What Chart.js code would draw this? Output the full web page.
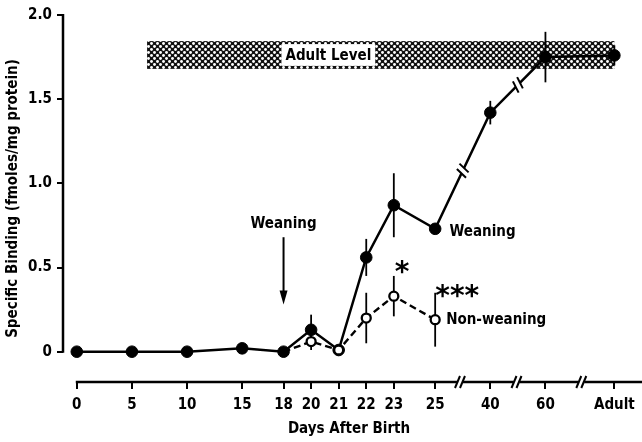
<!DOCTYPE html>
<html><head><meta charset="utf-8">
<script src="https://cdn.jsdelivr.net/npm/chart.js@4.4.1/dist/chart.umd.min.js"></script>
<style>html,body{margin:0;padding:0;background:#fff;}</style>
</head><body>
<canvas id="c" width="642" height="442"></canvas>
<script>
// ---- data ----
const dayLabels = ['0','5','10','15','18','20','21','22','23','25','40','60','Adult'];
const axisSlots = [0,4,8,12,15,17,19,21,23,26,30,34,39];          // position of each day on the broken axis
const weaningMean = [0,0,0,0.02,0,0.13,0.01,0.56,0.87,0.73,1.42,1.75,1.76];
const weaningErr  = [0,0,0,0,0,0.09,0,0.11,0.19,0.03,0.07,0.15,0.06];
const nonWeaningMean = [null,null,null,null,0,0.06,0.01,0.20,0.33,0.19,null,null,null];
const nonWeaningErr  = [null,null,null,null,0,0.05,0.02,0.15,0.12,0.16,null,null,null];
const yTicks = [0,0.5,1.0,1.5,2.0];
const yTickLabels = ['0','0.5','1.0','1.5','2.0'];
const adultLevel = [1.68,1.845];

const FONT = "'Liberation Sans Narrow','Arial Narrow','DejaVu Sans Condensed',sans-serif";

function pts(mean){
  const out=[];
  mean.forEach((v,i)=>{ if(v!==null) out.push({x:axisSlots[i], y:v}); });
  return out;
}

// crosshatch pattern: black mesh with staggered white holes
const pc=document.createElement('canvas'); pc.width=6; pc.height=6;
const pctx=pc.getContext('2d');
pctx.fillStyle='#111'; pctx.fillRect(0,0,6,6);
pctx.fillStyle='#fff';
[[1.5,1.5],[4.5,4.5],[4.5,-1.5],[-1.5,4.5],[7.5,4.5],[4.5,7.5]].forEach(([cx,cy])=>{
  pctx.beginPath(); pctx.arc(cx,cy,1.45,0,Math.PI*2); pctx.fill();
});
const ctxMain=document.getElementById('c').getContext('2d');
const pattern=ctxMain.createPattern(pc,'repeat');

const deco={
  id:'deco',
  beforeDatasetsDraw(chart){
    const {ctx,scales:{x,y}}=chart;
    ctx.save();
    // adult band
    const x0=x.getPixelForValue(5.1), x1=x.getPixelForValue(39);
    const yt=y.getPixelForValue(adultLevel[1]), yb=y.getPixelForValue(adultLevel[0]);
    ctx.fillStyle=pattern;
    ctx.fillRect(x0,yt,x1-x0,yb-yt);
    ctx.font='bold 15px '+FONT;
    const tw=ctx.measureText('Adult Level').width;
    const cx=x.getPixelForValue(18.25), cy=(yt+yb)/2;
    ctx.fillStyle='#fff';
    ctx.fillRect(cx-tw/2-4,yt+3,tw+8,yb-yt-6);
    ctx.fillStyle='#000'; ctx.textAlign='center'; ctx.textBaseline='middle';
    ctx.fillText('Adult Level',cx,cy+1);
    // error bars
    ctx.strokeStyle='#000'; ctx.lineWidth=1.8;
    const bars=(mean,err)=>mean.forEach((v,i)=>{
      if(v===null||!err[i]) return;
      const px=x.getPixelForValue(axisSlots[i]);
      ctx.beginPath();
      ctx.moveTo(px,y.getPixelForValue(v+err[i]));
      ctx.lineTo(px,y.getPixelForValue(Math.max(v-err[i],-0.01)));
      ctx.stroke();
    });
    bars(weaningMean,weaningErr);
    bars(nonWeaningMean,nonWeaningErr);
    ctx.restore();
  },
  afterDatasetsDraw(chart){
    const {ctx,scales:{x,y}}=chart;
    ctx.save();
    // break marks on weaning line
    [[9,10],[10,11]].forEach(([a,b])=>{
      const xa=x.getPixelForValue(axisSlots[a]), ya=y.getPixelForValue(weaningMean[a]);
      const xb=x.getPixelForValue(axisSlots[b]), yb=y.getPixelForValue(weaningMean[b]);
      const mx=(xa+xb)/2, my=(ya+yb)/2;
      const ang=Math.atan2(yb-ya,xb-xa);
      ctx.translate(mx,my); ctx.rotate(ang);
      ctx.fillStyle='#fff'; ctx.fillRect(-3,-6,6,12);
      ctx.strokeStyle='#000'; ctx.lineWidth=2;
      [-3,3].forEach(d=>{ctx.beginPath();ctx.moveTo(d-2,6);ctx.lineTo(d+2,-6);ctx.stroke();});
      ctx.setTransform(1,0,0,1,0,0);
    });
    // annotations
    ctx.fillStyle='#000'; ctx.strokeStyle='#000';
    ctx.font='bold 15px '+FONT; ctx.textBaseline='middle';
    ctx.textAlign='center';
    const ax=x.getPixelForValue(15);
    ctx.fillText('Weaning',ax,y.getPixelForValue(0.755));
    ctx.lineWidth=2;
    const ay0=y.getPixelForValue(0.68), ay1=y.getPixelForValue(0.28);
    ctx.beginPath(); ctx.moveTo(ax,ay0); ctx.lineTo(ax,ay1-10); ctx.stroke();
    ctx.beginPath(); ctx.moveTo(ax-4,ay1-14); ctx.lineTo(ax+4,ay1-14); ctx.lineTo(ax,ay1); ctx.closePath(); ctx.fill();
    ctx.textAlign='left';
    ctx.fillText('Weaning',x.getPixelForValue(27.04),y.getPixelForValue(0.71));
    ctx.fillText('Non-weaning',x.getPixelForValue(26.8),y.getPixelForValue(0.185));
    ctx.textAlign='center';
    ctx.font="bold 28px 'DejaVu Sans',sans-serif";
    ctx.fillText('*',x.getPixelForValue(23.6),y.getPixelForValue(0.5)+6);
    ctx.fillText('***',x.getPixelForValue(27.6),y.getPixelForValue(0.357)+6);
    ctx.restore();
  },
  afterDraw(chart){
    const {ctx,scales:{x,y},chartArea}=chart;
    ctx.save();
    ctx.strokeStyle='#000'; ctx.lineWidth=2.5;
    // y axis line (0 to 2.0)
    const yl=chartArea.left;
    ctx.beginPath(); ctx.moveTo(yl,y.getPixelForValue(2.0)-1); ctx.lineTo(yl,y.getPixelForValue(0)+1); ctx.stroke();
    // x axis line
    const by=chartArea.bottom;
    ctx.beginPath(); ctx.moveTo(x.getPixelForValue(0)-1,by); ctx.lineTo(chart.width,by); ctx.stroke();
    // breaks
    [27.8,31.9,36.6].forEach(s=>{
      const px=x.getPixelForValue(s);
      ctx.fillStyle='#fff'; ctx.fillRect(px-3,by-3,6,6);
      ctx.lineWidth=2;
      [-2.5,2.5].forEach(d=>{ctx.beginPath();ctx.moveTo(px+d-2.5,by+6);ctx.lineTo(px+d+2.5,by-6);ctx.stroke();});
    });
    ctx.restore();
  }
};

new Chart(document.getElementById('c'),{
  type:'line',
  data:{datasets:[
    {label:'Weaning',data:pts(weaningMean),borderColor:'#000',borderWidth:2.5,tension:0,
     pointRadius:5.8,pointBackgroundColor:'#000',pointBorderColor:'#000',pointBorderWidth:1,order:2},
    {label:'Non-weaning',data:pts(nonWeaningMean),borderColor:'#000',borderWidth:2.4,borderDash:[7,4],tension:0,
     pointRadius:[0,4.5,4.5,4.5,4.5,4.5],pointBackgroundColor:'#fff',pointBorderColor:'#000',pointBorderWidth:2.3,order:1}
  ]},
  options:{
    responsive:false,animation:false,devicePixelRatio:1,
    layout:{padding:{top:15,right:3,left:0,bottom:0}},
    plugins:{legend:{display:false},tooltip:{enabled:false}},
    scales:{
      x:{type:'linear',min:-1,max:40.5,
        afterBuildTicks(s){s.ticks=axisSlots.map(v=>({value:v}));},
        afterFit(s){s.height=60;},
        ticks:{autoSkip:false,maxRotation:0,color:'#000',padding:7,font:{family:FONT,weight:'bold',size:15},
          callback(v){const i=axisSlots.indexOf(v);return i>=0?dayLabels[i]:'';}},
        grid:{drawOnChartArea:false,drawTicks:true,tickLength:7,color:'#000',lineWidth:2},
        border:{display:false},
        title:{display:true,text:'Days After Birth',color:'#000',font:{family:FONT,weight:'bold',size:15},padding:{top:4,bottom:4}}
      },
      y:{type:'linear',min:-0.18,max:2.0,
        afterBuildTicks(s){s.ticks=yTicks.map(v=>({value:v}));},
        afterFit(s){s.width=63;},
        ticks:{color:'#000',padding:5,font:{family:FONT,weight:'bold',size:15},
          callback(v){const i=yTicks.indexOf(v);return i>=0?yTickLabels[i]:'';}},
        grid:{drawOnChartArea:false,drawTicks:true,tickLength:6,color:'#000',lineWidth:2},
        border:{display:false},
        title:{display:true,text:'Specific Binding (fmoles/mg protein)',color:'#000',font:{family:FONT,weight:'bold',size:15},padding:{top:4,bottom:4}}
      }
    }
  },
  plugins:[deco]
});
</script>
</body></html>
